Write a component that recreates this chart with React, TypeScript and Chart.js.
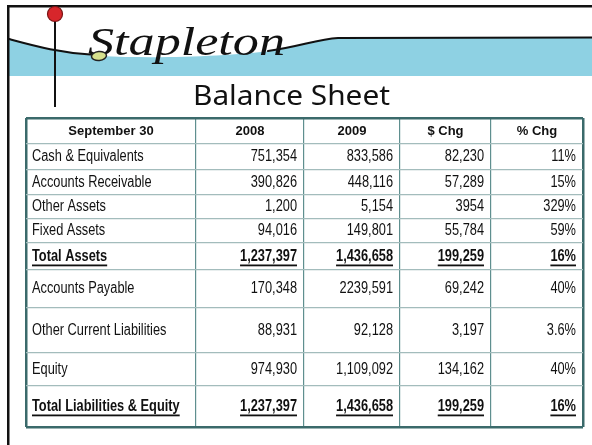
import { useEffect, useRef } from "react";
import { Chart, registerables } from "chart.js";

Chart.register(...registerables);

// ---- data ----
const brand = "Stapleton";
const title = "Balance Sheet";
const columns = ["September 30", "2008", "2009", "$ Chg", "% Chg"];
const rowLabels = [
  "Cash & Equivalents",
  "Accounts Receivable",
  "Other Assets",
  "Fixed Assets",
  "Total Assets",
  "Accounts Payable",
  "Other Current Liabilities",
  "Equity",
  "Total Liabilities & Equity",
];
const values2008 = ["751,354", "390,826", "1,200", "94,016", "1,237,397", "170,348", "88,931", "974,930", "1,237,397"];
const values2009 = ["833,586", "448,116", "5,154", "149,801", "1,436,658", "2239,591", "92,128", "1,109,092", "1,436,658"];
const dollarChg = ["82,230", "57,289", "3954", "55,784", "199,259", "69,242", "3,197", "134,162", "199,259"];
const pctChg = ["11%", "15%", "329%", "59%", "16%", "40%", "3.6%", "40%", "16%"];
const totalRows = ["Total Assets", "Total Liabilities & Equity"];

// ---- layout (not data) ----
const COL_W = [170, 108, 96, 91, 92];
const ROW_H = [26, 26, 25, 24, 24, 27, 38, 45, 33, 41];
const cum = (a: number[]) => a.reduce((acc: number[], v) => [...acc, acc[acc.length - 1] + v], [0]);
const X_B = cum(COL_W);
const Y_B = cum(ROW_H);

const BODY_FONT = '"Liberation Sans", Arial, sans-serif';
const NARROW = 0.8;
const OUTER = "#3b6a6b";
const INNER_V = "#5f8f8f";
const INNER_H = "#a3bcbc";

const decorPlugin = {
  id: "decor",
  beforeDraw(chart: any) {
    const ctx = chart.ctx as CanvasRenderingContext2D;
    ctx.save();
    ctx.fillStyle = "#fff";
    ctx.fillRect(0, 0, chart.width, chart.height);

    // blue band under curve
    ctx.beginPath();
    ctx.moveTo(9, 39);
    ctx.bezierCurveTo(35, 46, 60, 53, 100, 56);
    ctx.bezierCurveTo(160, 59, 230, 56, 270, 51);
    ctx.bezierCurveTo(300, 46, 320, 39, 338, 38);
    ctx.lineTo(592, 38);
    ctx.lineTo(592, 76);
    ctx.lineTo(9, 76);
    ctx.closePath();
    ctx.fillStyle = "#8ed1e3";
    ctx.fill();

    // black swoosh line
    ctx.strokeStyle = "#111";
    ctx.lineWidth = 2;
    ctx.lineCap = "round";
    ctx.beginPath();
    ctx.moveTo(9, 39);
    ctx.bezierCurveTo(35, 46, 60, 53, 96, 55);
    ctx.stroke();
    ctx.beginPath();
    ctx.moveTo(268, 51);
    ctx.bezierCurveTo(298, 47, 318, 39, 338, 38);
    ctx.lineTo(592, 37.5);
    ctx.stroke();

    // frame
    ctx.fillStyle = "#111";
    ctx.fillRect(7, 5, 585, 2.5);
    ctx.fillRect(7, 5, 2.5, 440);

    // pin stick
    ctx.fillRect(54, 14, 2, 93);

    // brand text
    ctx.fillStyle = "#111";
    ctx.font = 'italic 40px "Liberation Serif", serif';
    ctx.textBaseline = "alphabetic";
    ctx.textAlign = "left";
    const bw = ctx.measureText(brand).width;
    ctx.save();
    ctx.translate(88, 55);
    ctx.scale(197 / bw, 1);
    ctx.fillText(brand, 0, 0);
    ctx.restore();

    // leaf
    ctx.beginPath();
    ctx.ellipse(99, 56, 7.5, 4.5, -0.1, 0, Math.PI * 2);
    ctx.fillStyle = "#d5e08d";
    ctx.fill();
    ctx.lineWidth = 1.5;
    ctx.strokeStyle = "#222";
    ctx.stroke();

    // pin head
    ctx.beginPath();
    ctx.arc(55, 14, 7.5, 0, Math.PI * 2);
    ctx.fillStyle = "#d7262b";
    ctx.fill();
    ctx.lineWidth = 1.2;
    ctx.strokeStyle = "#7a1414";
    ctx.stroke();

    // title
    ctx.fillStyle = "#111";
    ctx.font = '27px "Comic Sans MS", "Noto Sans", sans-serif';
    const tw = ctx.measureText(title).width;
    ctx.save();
    ctx.translate(193, 105);
    ctx.scale(197 / tw, 1);
    ctx.fillText(title, 0, 0);
    ctx.restore();

    ctx.restore();
  },
};

const tablePlugin = {
  id: "tableText",
  afterDraw(chart: any) {
    const ctx = chart.ctx as CanvasRenderingContext2D;
    const xs = chart.scales.x;
    const ys = chart.scales.y;
    ctx.save();
    ctx.fillStyle = "#111";
    ctx.textBaseline = "middle";

    // header
    ctx.font = "bold 13px " + BODY_FONT;
    ctx.textAlign = "center";
    const hy = ys.getPixelForValue((Y_B[0] + Y_B[1]) / 2);
    columns.forEach((c, i) => {
      const cx = xs.getPixelForValue((X_B[i] + X_B[i + 1]) / 2);
      ctx.fillText(c, cx, hy);
    });

    const cols = [values2008, values2009, dollarChg, pctChg];
    rowLabels.forEach((label, r) => {
      const y = ys.getPixelForValue((Y_B[r + 1] + Y_B[r + 2]) / 2);
      const bold = totalRows.includes(label);
      ctx.font = (bold ? "bold " : "") + "16px " + BODY_FONT;
      const draw = (t: string, x: number, align: CanvasTextAlign) => {
        ctx.save();
        ctx.translate(x, y);
        ctx.scale(NARROW, 1);
        ctx.textAlign = align;
        ctx.fillText(t, 0, 0);
        ctx.restore();
        if (bold) {
          const w = ctx.measureText(t).width * NARROW;
          const x0 = align === "left" ? x : x - w;
          ctx.fillRect(x0, y + 8, w, 1.8);
        }
      };
      draw(label, xs.getPixelForValue(X_B[0]) + 6, "left");
      cols.forEach((arr, c) => {
        draw(arr[r], xs.getPixelForValue(X_B[c + 2]) - 7, "right");
      });
    });
    ctx.restore();
  },
};

export default function App() {
  const ref = useRef<HTMLCanvasElement>(null);
  useEffect(() => {
    if (!ref.current) return;
    const lastX = X_B.length - 1;
    const lastY = Y_B.length - 1;
    const chart = new Chart(ref.current, {
      type: "scatter",
      data: {
        datasets: [
          {
            data: rowLabels.map((_, r) => ({ x: X_B[0], y: (Y_B[r + 1] + Y_B[r + 2]) / 2 })),
            pointRadius: 0,
          },
        ],
      },
      options: {
        responsive: false,
        animation: false,
        events: [],
        layout: { padding: { left: 26, top: 118, right: 9, bottom: 445 - 118 - Y_B[Y_B.length - 1] } },
        plugins: { legend: { display: false }, tooltip: { enabled: false } },
        scales: {
          x: {
            type: "linear",
            min: 0,
            max: X_B[lastX],
            afterBuildTicks: (s: any) => {
              s.ticks = X_B.map((v) => ({ value: v }));
            },
            ticks: { display: false },
            border: { display: false },
            grid: {
              drawTicks: false,
              color: (c: any) => (c.index === 0 || c.index === lastX ? OUTER : INNER_V),
              lineWidth: (c: any) => (c.index === 0 || c.index === lastX ? 2.5 : 1.2),
            },
          },
          y: {
            type: "linear",
            reverse: true,
            min: 0,
            max: Y_B[lastY],
            afterBuildTicks: (s: any) => {
              s.ticks = Y_B.map((v) => ({ value: v }));
            },
            ticks: { display: false },
            border: { display: false },
            grid: {
              drawTicks: false,
              color: (c: any) => (c.index === 0 || c.index === lastY ? OUTER : INNER_H),
              lineWidth: (c: any) => (c.index === 0 || c.index === lastY ? 2.5 : 1.2),
            },
          },
        },
      },
      plugins: [decorPlugin, tablePlugin],
    });
    return () => chart.destroy();
  }, []);
  return (
    <div style={{ position: "absolute", left: 0, top: 0, width: 592, height: 445, background: "#fff" }}>
      <canvas ref={ref} width={592} height={445} style={{ display: "block" }} />
    </div>
  );
}
